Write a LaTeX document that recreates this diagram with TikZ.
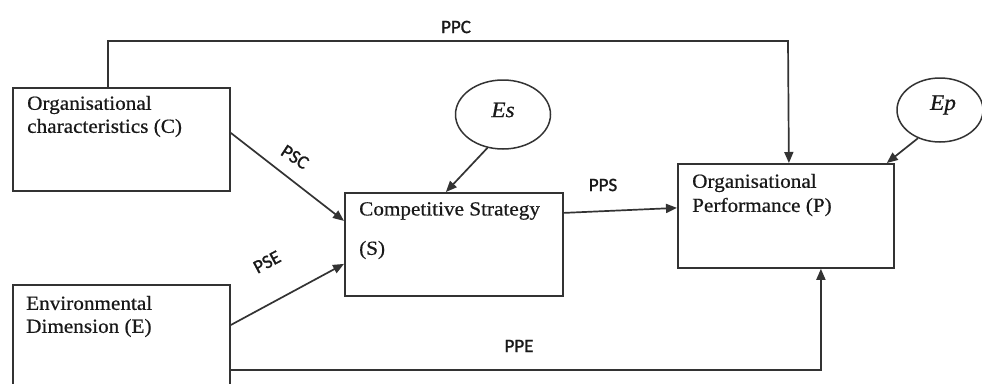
\documentclass[tikz,border=0pt]{standalone}
\usepackage{fontspec}
\setmainfont[FakeStretch=1.06,FakeBold=0.6]{Liberation Serif}
\newfontfamily\lblfont[FakeBold=1.2]{Carlito}
\usetikzlibrary{arrows.meta,shapes.geometric}
\definecolor{ink}{HTML}{333333}
\begin{document}
\begin{tikzpicture}[x=1pt,y=-1pt,
  box/.style={draw=ink,line width=1.8pt,rectangle,inner sep=0pt,anchor=north west},
  btext/.style={anchor=west,inner sep=0pt,font=\fontsize{20}{22}\selectfont,text=black!90},
  err/.style={draw=ink,line width=1.5pt,ellipse,inner sep=0pt},
  arr/.style={draw=ink,line width=1.7pt,-{Triangle[length=11pt,width=9pt]}},
  lbl/.style={inner sep=0pt,font=\lblfont\fontsize{19}{20}\selectfont,text=black!90}]
\useasboundingbox (0,0) rectangle (982,383);
\fill[white] (0,0) rectangle (982,383);
% boxes
\node[box,minimum width=217pt,minimum height=103pt] (C) at (12,87) {};
\node[box,minimum width=217pt,minimum height=110pt] (E) at (12,284) {};
\node[box,minimum width=218pt,minimum height=103pt] (S) at (344,192) {};
\node[box,minimum width=216pt,minimum height=104pt] (P) at (677,163) {};
% texts
\node[btext] (Ct1) at (27,105) {Organisational};
\node[btext] (Ct2) at (27,128) {characteristics (C)};
\node[btext] (Et1) at (26,303) {Environmental};
\node[btext] (Et2) at (26,328) {Dimension (E)};
\node[btext] (St1) at (359,211) {Competitive Strategy};
\node[btext] (St2) at (359,250) {(S)};
\node[btext] (Pt1) at (692,183) {Organisational};
\node[btext] (Pt2) at (692,207) {Performance (P)};
% error ellipses
\node[err,minimum width=95pt,minimum height=69pt] (Es) at (503,114.5) {};
\node[btext,anchor=center,font=\fontsize{22}{22}\selectfont] (Est) at (503,110) {\itshape Es};
\node[err,minimum width=86pt,minimum height=64pt] (Ep) at (940,110) {};
\node[btext,anchor=center,font=\fontsize{22}{22}\selectfont] (Ept) at (943,105) {\itshape Ep};
% connectors
\coordinate (ppc) at (788,41);
\draw[arr] ([xshift=-13.5pt]C.north) |- (ppc) -- ([xshift=3pt]P.north);
\draw[arr] ([yshift=-86pt]E.north east) -| ([xshift=35pt]P.south);
\draw[arr] ([yshift=6.5pt]C.east) -- ([yshift=23.5pt]S.west);
\draw[arr] ([yshift=-41pt]E.north east) -- ([yshift=-19.5pt]S.west);
\draw[arr] ([yshift=31.5pt]S.east) -- ([yshift=8pt]P.west);
\draw[arr] (Es.245) -- ([xshift=-8pt]S.north);
\draw[arr] (Ep.232) -- ([xshift=-8pt]P.north east);
% labels
\node[lbl] (lppc) at (456,27) {PPC};
\node[lbl] (lppe) at (519,346) {PPE};
\node[lbl] (lpps) at (603,185) {PPS};
\node[lbl,rotate=-33] (lpsc) at (295,157) {PSC};
\node[lbl,rotate=28] (lpse) at (267,262) {PSE};
\end{tikzpicture}
\end{document}
